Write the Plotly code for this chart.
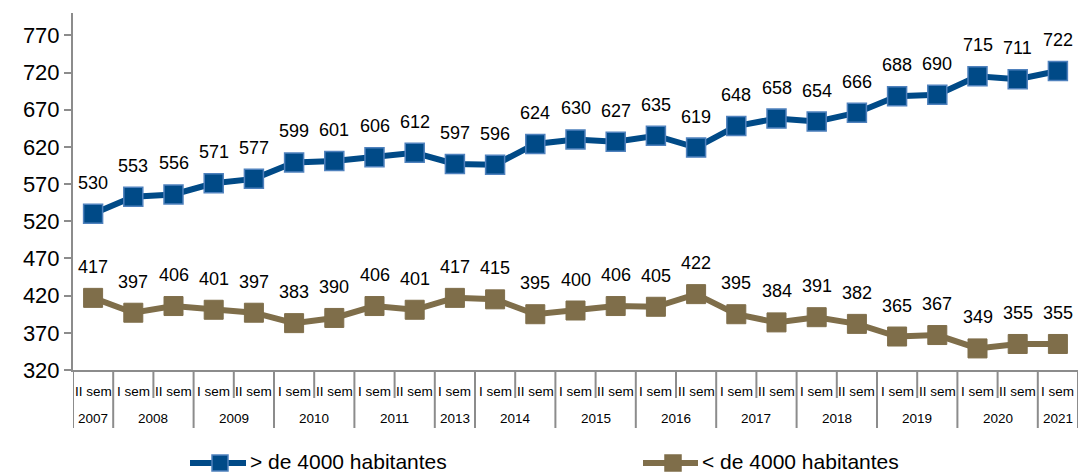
import plotly.graph_objects as go

years = ["2007", "2008", "2008", "2009", "2009", "2010", "2010", "2011", "2011", "2013",
         "2014", "2014", "2015", "2015", "2016", "2016", "2017", "2017", "2018", "2018",
         "2019", "2019", "2020", "2020", "2021"]
sems = ["II sem", "I sem", "II sem", "I sem", "II sem", "I sem", "II sem", "I sem", "II sem", "I sem",
        "I sem", "II sem", "I sem", "II sem", "I sem", "II sem", "I sem", "II sem", "I sem", "II sem",
        "I sem", "II sem", "I sem", "II sem", "I sem"]
mayor = [530, 553, 556, 571, 577, 599, 601, 606, 612, 597, 596, 624, 630, 627, 635, 619,
         648, 658, 654, 666, 688, 690, 715, 711, 722]
menor = [417, 397, 406, 401, 397, 383, 390, 406, 401, 417, 415, 395, 400, 406, 405, 422,
         395, 384, 391, 382, 365, 367, 349, 355, 355]
yticks = [320, 370, 420, 470, 520, 570, 620, 670, 720, 770]
series_names = ["> de 4000 habitantes", "< de 4000 habitantes"]

W, H = 1078, 474
ML, MR, MT, MB = 73, 0, 13, 104
PW, PH = W - ML - MR, H - MT - MB

def py(ypix):
    return (H - MB - ypix) / PH

def pxp(xpix):
    return (xpix - ML) / PW

FONT = "Liberation Sans, Arial, sans-serif"
BLUE, BLUE_EDGE = "#004A87", "#4F81BD"
BROWN = "#7F6E4A"
GRID = "#8C8C8C"

n = len(sems)
xs = list(range(n))

fig = go.Figure()
fig.add_trace(go.Scatter(
    x=xs, y=mayor, name=series_names[0], mode="lines+markers", showlegend=False,
    line=dict(color=BLUE, width=6),
    marker=dict(symbol="square", size=19, color=BLUE, line=dict(color=BLUE_EDGE, width=1.5)),
))
fig.add_trace(go.Scatter(
    x=xs, y=menor, name=series_names[1], mode="lines+markers", showlegend=False,
    line=dict(color=BROWN, width=6),
    marker=dict(symbol="square", size=19, color=BROWN, line=dict(color=BROWN, width=1)),
))

ann = []
shapes = []
# data labels
for vals in (mayor, menor):
    for i, v in enumerate(vals):
        ann.append(dict(x=i, y=v, xref="x", yref="y", text=str(v), showarrow=False,
                        yshift=31, font=dict(family=FONT, size=18, color="#000")))
# category labels
for i, s in enumerate(sems):
    ann.append(dict(x=i, y=py(391), xref="x", yref="paper", text=s, showarrow=False,
                    yanchor="middle", font=dict(family=FONT, size=13.5, color="#000")))
# year labels and dividers
groups = []
for i, yv in enumerate(years):
    if groups and groups[-1][0] == yv:
        groups[-1][2] = i
    else:
        groups.append([yv, i, i])
for yv, a, b in groups:
    ann.append(dict(x=(a + b) / 2, y=py(418), xref="x", yref="paper", text=yv, showarrow=False,
                    yanchor="middle", font=dict(family=FONT, size=13.5, color="#000")))
    shapes.append(dict(type="line", xref="x", yref="paper", x0=a - 0.5, x1=a - 0.5,
                       y0=0, y1=py(428), line=dict(color=GRID, width=2)))
    for k in range(a + 1, b + 1):
        shapes.append(dict(type="line", xref="x", yref="paper", x0=k - 0.5, x1=k - 0.5,
                           y0=0, y1=py(398), line=dict(color=GRID, width=2)))
shapes.append(dict(type="line", xref="x", yref="paper", x0=n - 0.5, x1=n - 0.5,
                   y0=0, y1=py(428), line=dict(color=GRID, width=2)))

# legend (manual)
leg = [(190, 248, 220, BLUE, BLUE_EDGE), (643, 700, 673, BROWN, BROWN)]
for (x0, x1, xc, col, edge), name in zip(leg, series_names):
    shapes.append(dict(type="line", xref="paper", yref="paper", x0=pxp(x0), x1=pxp(x1 - 2),
                       y0=py(463), y1=py(463), line=dict(color=col, width=6)))
    shapes.append(dict(type="rect", xref="paper", yref="paper", x0=pxp(xc - 8), x1=pxp(xc + 8),
                       y0=py(471), y1=py(455), fillcolor=col, line=dict(color=edge, width=1.5)))
    ann.append(dict(x=pxp(x1), y=py(461), xref="paper", yref="paper", text=name, showarrow=False,
                    xanchor="left", yanchor="middle", font=dict(family=FONT, size=21, color="#000")))

fig.update_layout(
    width=W, height=H,
    margin=dict(l=ML, r=MR, t=MT, b=MB),
    paper_bgcolor="white", plot_bgcolor="white",
    font=dict(family=FONT, size=18, color="#000000"),
    showlegend=False,
    annotations=ann, shapes=shapes,
)
fig.update_xaxes(
    range=[-0.5, n - 0.5], showticklabels=False, ticks="",
    showline=True, linecolor=GRID, linewidth=2,
    showgrid=False, zeroline=False,
)
fig.update_yaxes(
    range=[320, 800],
    tickvals=yticks, ticktext=[str(v) for v in yticks],
    showline=True, linecolor=GRID, linewidth=2,
    ticks="outside", ticklen=7, tickcolor=GRID, tickwidth=2,
    tickfont=dict(family=FONT, size=22, color="#000000"),
    showgrid=False, zeroline=False,
)

fig.write_html("out.html",
               config={"displayModeBar": False},
               post_script="document.body.style.margin='0';document.body.style.padding='0';"
                           "document.body.style.overflow='hidden';")
